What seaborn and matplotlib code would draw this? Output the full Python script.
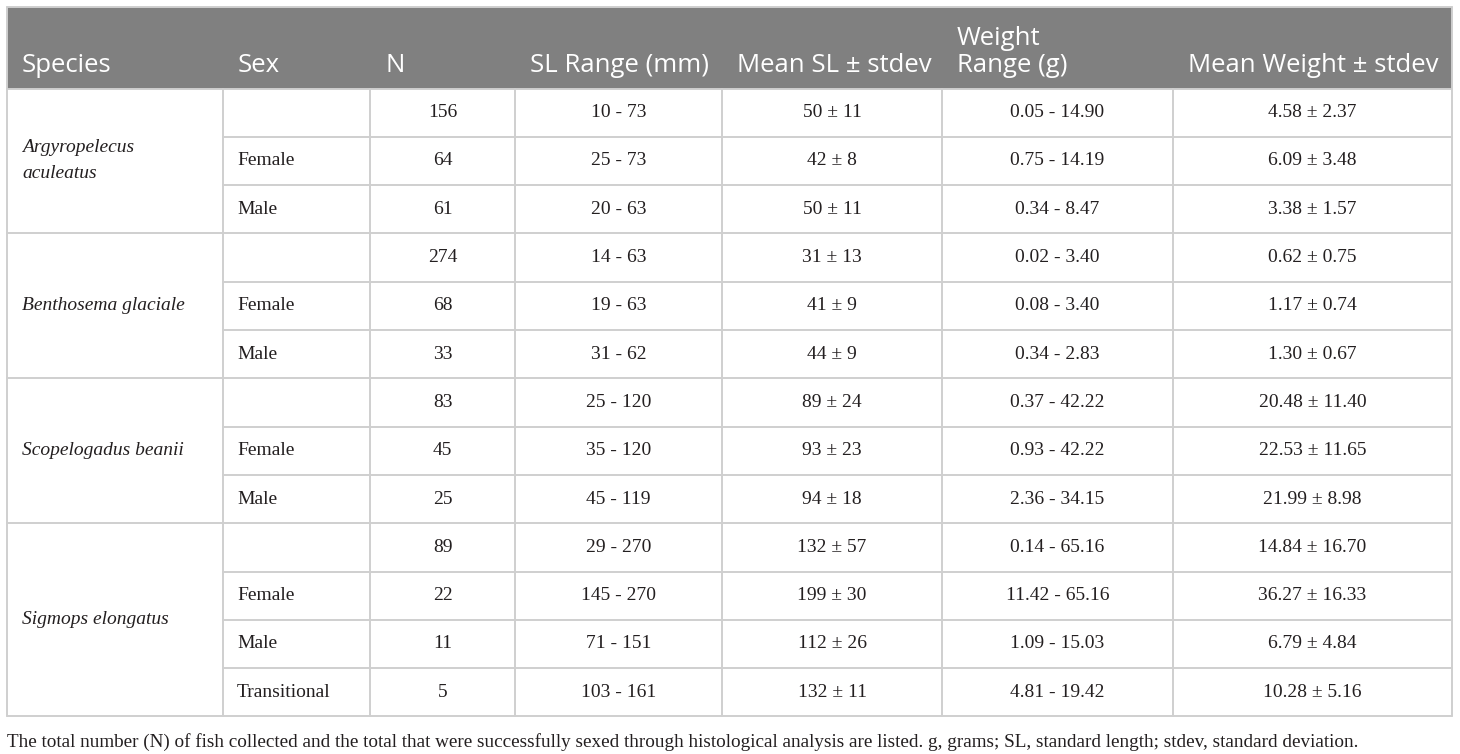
import matplotlib
matplotlib.use("Agg")
import matplotlib.pyplot as plt
import seaborn as sns
from matplotlib.patches import Rectangle

# Table contents
headers = ["Species", "Sex", "N", "SL Range (mm)", "Mean SL \u00b1 stdev",
           "Weight\nRange (g)", "Mean Weight \u00b1 stdev"]
species = ["Argyropelecus\naculeatus", "Benthosema glaciale",
           "Scopelogadus beanii", "Sigmops elongatus"]
group_sizes = [3, 3, 3, 4]
sex = ["", "Female", "Male",
       "", "Female", "Male",
       "", "Female", "Male",
       "", "Female", "Male", "Transitional"]
n = [156, 64, 61, 274, 68, 33, 83, 45, 25, 89, 22, 11, 5]
sl_range = ["10 - 73", "25 - 73", "20 - 63", "14 - 63", "19 - 63", "31 - 62",
            "25 - 120", "35 - 120", "45 - 119", "29 - 270", "145 - 270",
            "71 - 151", "103 - 161"]
mean_sl = ["50 \u00b1 11", "42 \u00b1 8", "50 \u00b1 11", "31 \u00b1 13", "41 \u00b1 9",
           "44 \u00b1 9", "89 \u00b1 24", "93 \u00b1 23", "94 \u00b1 18",
           "132 \u00b1 57", "199 \u00b1 30", "112 \u00b1 26", "132 \u00b1 11"]
weight_range = ["0.05 - 14.90", "0.75 - 14.19", "0.34 - 8.47", "0.02 - 3.40",
                "0.08 - 3.40", "0.34 - 2.83", "0.37 - 42.22", "0.93 - 42.22",
                "2.36 - 34.15", "0.14 - 65.16", "11.42 - 65.16",
                "1.09 - 15.03", "4.81 - 19.42"]
mean_weight = ["4.58 \u00b1 2.37", "6.09 \u00b1 3.48", "3.38 \u00b1 1.57",
               "0.62 \u00b1 0.75", "1.17 \u00b1 0.74", "1.30 \u00b1 0.67",
               "20.48 \u00b1 11.40", "22.53 \u00b1 11.65", "21.99 \u00b1 8.98",
               "14.84 \u00b1 16.70", "36.27 \u00b1 16.33", "6.79 \u00b1 4.84",
               "10.28 \u00b1 5.16"]
caption = ("The total number (N) of fish collected and the total that were successfully "
           "sexed through histological analysis are listed. g, grams; SL, standard "
           "length; stdev, standard deviation.")

# layout (pixels)
col_edges = [7, 223, 370, 515, 722, 942, 1173, 1452]
top, head_bottom, row_h = 7, 88.5, 48.3
n_rows = len(n)
bottom = head_bottom + n_rows * row_h
grid_color = "#cfcfcf"
text_color = "#231f20"
body_size = 14

sns.set_theme(style="white")
fig = plt.figure(figsize=(14.6, 7.54), dpi=100)
ax = fig.add_axes([0, 0, 1, 1])
ax.set_xlim(0, 1460)
ax.set_ylim(754, 0)
ax.axis("off")

# header band
ax.add_patch(Rectangle((col_edges[0], top), col_edges[-1] - col_edges[0],
                       head_bottom - top, facecolor="#808080", edgecolor="none"))
for i, h in enumerate(headers):
    ax.text(col_edges[i] + 15, 72, h, color="white", fontsize=18.5,
            family="Open Sans", ha="left", va="baseline", linespacing=1.1)

# grid lines
for k in range(n_rows + 1):
    y = head_bottom + k * row_h
    starts_group = k in [0, 3, 6, 9, 13]
    x0 = col_edges[0] if starts_group else col_edges[1]
    ax.plot([x0, col_edges[-1]], [y, y], color=grid_color, lw=1.4)
ax.plot([col_edges[0], col_edges[-1]], [top, top], color=grid_color, lw=1.4)
for i, x in enumerate(col_edges):
    y0 = top if i in (0, len(col_edges) - 1) else head_bottom
    ax.plot([x, x], [y0, bottom], color=grid_color, lw=1.4)

# species column
row = 0
for sp, g in zip(species, group_sizes):
    yc = head_bottom + (row + g / 2) * row_h
    ax.text(col_edges[0] + 15, yc, sp, fontsize=body_size, style="italic",
            family="Liberation Serif", color=text_color, ha="left", va="center",
            linespacing=1.7)
    row += g

# body cells
columns = [sex, [str(v) for v in n], sl_range, mean_sl, weight_range, mean_weight]
for r in range(n_rows):
    yc = head_bottom + (r + 0.5) * row_h
    for c, col in enumerate(columns, start=1):
        if c == 1:
            ax.text(col_edges[c] + 14, yc, col[r], fontsize=body_size,
                    family="Liberation Serif", color=text_color,
                    ha="left", va="center")
        else:
            ax.text((col_edges[c] + col_edges[c + 1]) / 2, yc, col[r],
                    fontsize=body_size, family="Liberation Serif",
                    color=text_color, ha="center", va="center")

ax.text(col_edges[0], 742, caption, fontsize=13.8, family="Liberation Serif",
        color=text_color, ha="left", va="center")

fig.savefig("out.png", dpi=100)
